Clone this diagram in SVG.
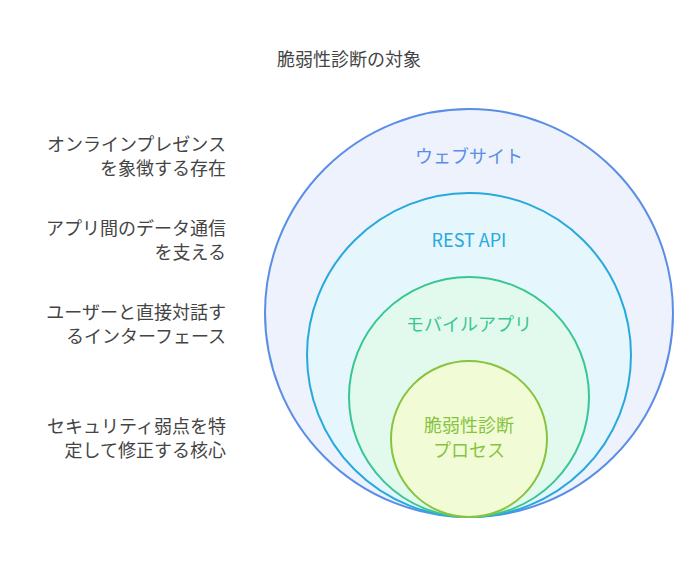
<svg xmlns="http://www.w3.org/2000/svg" width="698" height="567" viewBox="0 0 698 567">
<style>
text{font-family:"Noto Sans CJK JP","Noto Sans",sans-serif;font-size:18px}
.l{fill:#444;text-anchor:end}
.c{text-anchor:middle}
</style>
<rect width="698" height="567" fill="#fff"/>
<text x="349" y="66" class="c" fill="#444" font-size="17">脆弱性診断の対象</text>
<g id="n1"><circle cx="469" cy="313" r="204" fill="#edf2fd" stroke="#5a8ee6" stroke-width="2"/><text x="469" y="163" class="c" fill="#5a8ee6">ウェブサイト</text></g>
<g id="n2"><circle cx="469" cy="355" r="162" fill="#e5f6fc" stroke="#28a9dc" stroke-width="2"/><text x="469" y="247" class="c" fill="#28a9dc" font-family="Roboto,sans-serif">REST API</text></g>
<g id="n3"><circle cx="469" cy="397" r="120" fill="#e2faee" stroke="#38c693" stroke-width="2"/><text x="469" y="331" class="c" fill="#38c693">モバイルアプリ</text></g>
<g id="n4"><circle cx="469" cy="439" r="78" fill="#f1fcd6" stroke="#88c340" stroke-width="2"/><text x="469" y="432" class="c" fill="#88c340">脆弱性診断</text><text x="469" y="457" class="c" fill="#88c340">プロセス</text></g>
<g id="labels">
<text x="226" y="151" class="l">オンラインプレゼンス</text><text x="226" y="175" class="l">を象徴する存在</text>
<text x="226" y="235" class="l">アプリ間のデータ通信</text><text x="226" y="259" class="l">を支える</text>
<text x="226" y="319" class="l">ユーザーと直接対話す</text><text x="226" y="343" class="l">るインターフェース</text>
<text x="226" y="433" class="l">セキュリティ弱点を特</text><text x="226" y="457" class="l">定して修正する核心</text>
</g>
<g id="connectors"/>
</svg>
